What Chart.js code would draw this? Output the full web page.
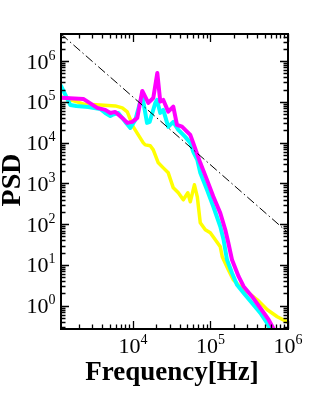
<!DOCTYPE html>
<html>
<head>
<meta charset="utf-8">
<script src="https://cdn.jsdelivr.net/npm/chart.js@4.4.1/dist/chart.umd.min.js"></script>
<style>
  html, body { margin: 0; padding: 0; background: #fff; }
</style>
</head>
<body>
<canvas id="psd" width="314" height="393"></canvas>
<script>
// axis ranges
const xMin = 1178, xMax = 1e6;
const yMin = 0.2685, yMax = 4.64e6;
const xTickExps = [4, 5, 6];
const yTickExps = [0, 1, 2, 3, 4, 5, 6];

// magenta series
const magentaFreq = [1178, 2285, 3459, 4392, 5097, 5915, 7278, 8440, 9794, 11360,
  13180, 14410, 15750, 18270, 20590, 22490, 24590, 28510, 33110, 36970,
  42870, 49760, 54860, 60000, 70210, 73810, 90120, 108700, 133800, 155200,
  169800, 189400, 230500, 267500, 343000, 439300, 562300, 652200, 700000];
const magentaPsd = [127000, 118600, 71300, 63700, 53700, 56900, 40500, 30600, 32400, 40500,
  186000, 133000, 94400, 125000, 514000, 101700, 112000, 57800, 76700, 27300,
  24800, 18700, 15500, 9720, 4170, 3200, 1224, 478, 187, 72.9,
  35.0, 13.4, 5.23, 2.97, 1.69, 0.879, 0.454, 0.269, 0.19];

// cyan series
const cyanFreq = [1178, 1552, 1854, 2650, 3784, 4392, 5097, 5408, 6460, 7955,
  9231, 10700, 12800, 13180, 15170, 16400, 19390, 20410, 22490, 24590,
  28510, 33110, 38450, 47290, 54860, 60000, 67570, 73810, 90120, 108700,
  133800, 147500, 163200, 189400, 219600, 267500, 343000, 439300, 535800, 591600, 640000];
const cyanPsd = [247000, 84400, 79800, 75400, 67300, 53700, 45000, 48000, 53700, 32400,
  23100, 36200, 125000, 140000, 30600, 32400, 94400, 112000, 53700, 63700,
  24400, 32400, 20600, 13900, 9900, 5960, 3790, 1820, 697, 272,
  87.9, 41.5, 13.4, 6.33, 3.27, 2.05, 1.16, 0.663, 0.377, 0.258, 0.18];

// yellow series
const yellowFreq = [1178, 2285, 3784, 5915, 7278, 8440, 10090, 11700, 13580, 14410,
  16710, 18270, 21200, 24590, 28510, 33110, 38450, 44570, 51000, 54860,
  62000, 67570, 73810, 85640, 99400, 115400, 133800, 141900, 169800, 196700,
  242600, 307500, 401300, 540800, 727800, 979000, 1000000];
const yellowPsd = [133000, 89300, 84400, 79800, 71300, 56900, 24400, 15500, 9900, 8830,
  8400, 6660, 3200, 2410, 1820, 780, 589, 397, 589, 354,
  925, 470, 108, 72.9, 61.5, 41.5, 27.9, 15.9, 7.62, 4.34,
  2.92, 2.08, 1.40, 0.798, 0.537, 0.40, 0.39];

// -5/3 reference line
const refFreq = [1178, 1000000];
const refPsd = [4.64e6, 62];

const toPoints = (xs, ys) => xs.map((x, i) => ({ x: x, y: ys[i] }));

const serif = '"Liberation Serif", "DejaVu Serif", serif';

const framePlugin = {
  id: 'frame',
  afterDraw(chart) {
    const ctx = chart.ctx;
    const a = chart.chartArea;
    const xs = chart.scales.x;
    const ys = chart.scales.y;
    ctx.save();
    ctx.strokeStyle = '#000';
    ctx.fillStyle = '#000';

    // inward ticks on all four sides
    ctx.lineWidth = 1.3;
    ctx.beginPath();
    for (let d = 3; d <= 6; d++) {
      for (let k = 1; k <= 9; k++) {
        const v = k * Math.pow(10, d);
        if (v < xMin || v > xMax) continue;
        const px = Math.round(xs.getPixelForValue(v)) + 0.5;
        const len = k === 1 ? 8 : 4.5;
        ctx.moveTo(px, a.bottom); ctx.lineTo(px, a.bottom - len);
        ctx.moveTo(px, a.top); ctx.lineTo(px, a.top + len);
      }
    }
    for (let d = -1; d <= 6; d++) {
      for (let k = 1; k <= 9; k++) {
        const v = k * Math.pow(10, d);
        if (v < yMin || v > yMax) continue;
        const py = Math.round(ys.getPixelForValue(v)) + 0.5;
        const len = k === 1 ? 8 : 4.5;
        ctx.moveTo(a.left, py); ctx.lineTo(a.left + len, py);
        ctx.moveTo(a.right, py); ctx.lineTo(a.right - len, py);
      }
    }
    ctx.stroke();

    ctx.lineWidth = 2;
    ctx.strokeRect(a.left, a.top, a.right - a.left, a.bottom - a.top);

    // tick labels 10^n
    const base = '22px ' + serif;
    const sup = '14px ' + serif;
    ctx.textBaseline = 'alphabetic';
    ctx.textAlign = 'left';
    xTickExps.forEach(e => {
      const px = xs.getPixelForValue(Math.pow(10, e));
      ctx.font = base; const w1 = ctx.measureText('10').width;
      ctx.font = sup; const w2 = ctx.measureText(String(e)).width;
      const x0 = px - (w1 + w2) / 2;
      ctx.font = base; ctx.fillText('10', x0, 353);
      ctx.font = sup; ctx.fillText(String(e), x0 + w1, 344);
    });
    yTickExps.forEach(e => {
      const py = ys.getPixelForValue(Math.pow(10, e));
      ctx.font = base; const w1 = ctx.measureText('10').width;
      ctx.font = sup; const w2 = ctx.measureText(String(e)).width;
      const x0 = a.left - 5.5 - w1 - w2;
      ctx.font = base; ctx.fillText('10', x0, py + 7.5);
      ctx.font = sup; ctx.fillText(String(e), x0 + w1, py - 1.5);
    });

    // axis titles
    ctx.font = 'bold 27px ' + serif;
    ctx.textAlign = 'center';
    ctx.fillText('Frequency[Hz]', 172, 380);
    ctx.translate(20, 180);
    ctx.rotate(-Math.PI / 2);
    ctx.font = 'bold 28px ' + serif;
    ctx.fillText('PSD', 0, 0);
    ctx.restore();
  }
};

const common = { pointRadius: 0, tension: 0, fill: false, clip: 0,
  borderJoinStyle: 'round', borderCapStyle: 'round' };

new Chart(document.getElementById('psd').getContext('2d'), {
  type: 'line',
  data: {
    datasets: [
      Object.assign({ label: 'ref', data: toPoints(refFreq, refPsd), borderColor: '#000',
        borderWidth: 1, borderDash: [9, 3, 1.5, 3], order: 0 }, common, { borderCapStyle: 'butt' }),
      Object.assign({ label: 'magenta', data: toPoints(magentaFreq, magentaPsd), borderColor: '#ff00ff',
        borderWidth: 4, order: 1 }, common),
      Object.assign({ label: 'cyan', data: toPoints(cyanFreq, cyanPsd), borderColor: '#00ffff',
        borderWidth: 4, order: 2 }, common),
      Object.assign({ label: 'yellow', data: toPoints(yellowFreq, yellowPsd), borderColor: '#ffff00',
        borderWidth: 3.5, order: 3 }, common)
    ]
  },
  options: {
    responsive: false,
    animation: false,
    layout: { padding: { left: 61, right: 26, top: 34, bottom: 64 } },
    plugins: { legend: { display: false }, tooltip: { enabled: false } },
    scales: {
      x: { type: 'logarithmic', display: false, min: xMin, max: xMax },
      y: { type: 'logarithmic', display: false, min: yMin, max: yMax }
    }
  },
  plugins: [framePlugin]
});
</script>
</body>
</html>
